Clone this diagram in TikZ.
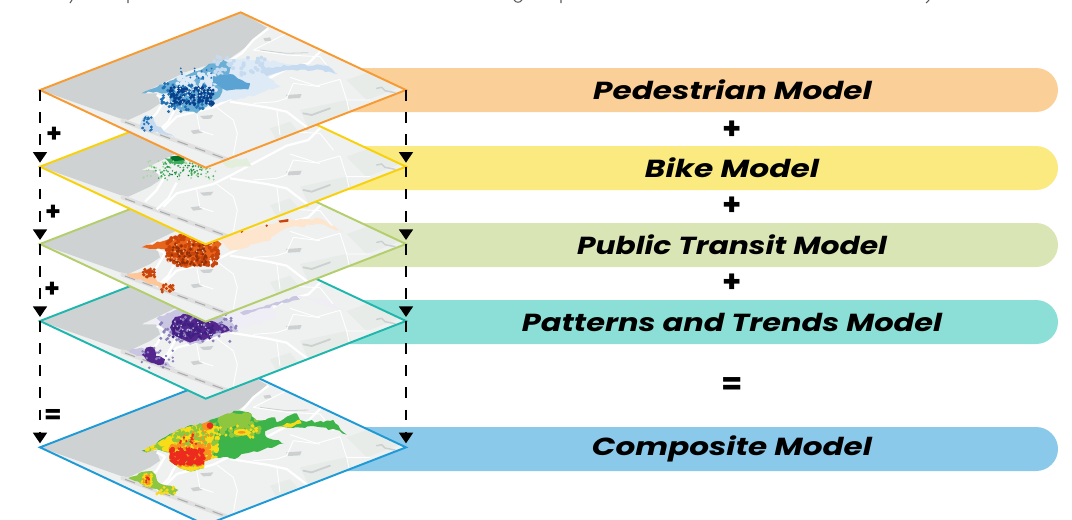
\documentclass[tikz,border=0pt]{standalone}
\usepackage{graphicx}
\usepackage{fontspec}
\setmainfont{Poppins}
\usetikzlibrary{arrows.meta,decorations.pathmorphing}
\definecolor{bara}{HTML}{FBCF98}\definecolor{barb}{HTML}{FAEA80}\definecolor{barc}{HTML}{DAE5B5}\definecolor{bard}{HTML}{8CDFD6}\definecolor{bare}{HTML}{8AC9E9}
\definecolor{edgea}{HTML}{F79A32}\definecolor{edgeb}{HTML}{F8D108}\definecolor{edgec}{HTML}{B3CE6B}\definecolor{edged}{HTML}{1FB7AD}\definecolor{edgee}{HTML}{1E9AD6}
\definecolor{land}{HTML}{EFF0F0}\definecolor{sea}{HTML}{CFD2D3}\definecolor{patch}{HTML}{E8ECE9}\definecolor{blob}{HTML}{CDD0D1}
\definecolor{bla}{HTML}{DEEBF7}\definecolor{blb}{HTML}{C6DBEF}\definecolor{blc}{HTML}{6BAED6}\definecolor{bld}{HTML}{2171B5}\definecolor{ble}{HTML}{08408C}\definecolor{blm}{HTML}{5BA3D3}
\definecolor{gra}{HTML}{A1D99B}\definecolor{grb}{HTML}{41AB5D}\definecolor{grc}{HTML}{00702C}\definecolor{grd}{HTML}{E3EEDD}
\definecolor{ora}{HTML}{FEE6CE}\definecolor{orb}{HTML}{FDC79A}\definecolor{orc}{HTML}{E8641A}\definecolor{ord}{HTML}{C9440A}\definecolor{ore}{HTML}{943008}
\definecolor{pua}{HTML}{EFEDF6}\definecolor{pub}{HTML}{C9C6E2}\definecolor{puc}{HTML}{8A80BC}\definecolor{pud}{HTML}{54278F}\definecolor{pue}{HTML}{3F1F80}
\definecolor{cga}{HTML}{3CB44A}\definecolor{cgb}{HTML}{8DC63F}\definecolor{cgc}{HTML}{F7DC17}\definecolor{cgd}{HTML}{F79420}\definecolor{cge}{HTML}{EC2A1E}
\tikzset{
 bar/.style={rounded corners=16.5pt},
 road/.style={white,line width=1.7pt,line join=round},
 lane/.style={white,line width=.7pt,line join=round},
 dashline/.style={black,line width=1.3pt,dash pattern=on 8pt off 8.6pt,-{Triangle[width=10.5pt,length=8pt]}},
 sign/.style={font=\bfseries\fontsize{23}{23}\selectfont,inner sep=0pt},
 sidesign/.style={font=\bfseries\fontsize{19}{19}\selectfont,inner sep=0pt},
 barlabel/.style={font=\bfseries\itshape\fontsize{18.5}{20}\selectfont,inner sep=0pt},
 layer/.style={x=.25pt,y=-.25pt,shift={(0,-#1*.25pt)}},
 frame/.style={line width=1.45pt,line join=miter},
 rough/.style={decorate,decoration={random steps,segment length=3pt,amplitude=1pt}}
}
\def\dia{(120,270) -- (722,37) -- (1218,270) -- (617,503) -- cycle}
\def\fpmain{(425,280) -- (470,258) -- (540,215) -- (620,195) -- (680,170) -- (720,160) -- (752,168) -- (770,190) -- (825,180) -- (830,195) -- (860,178) -- (890,168) -- (900,188) -- (970,195) -- (1000,188) -- (1040,232) -- (1010,218) -- (950,208) -- (880,212) -- (845,207) -- (795,222) -- (800,240) -- (852,258) -- (815,272) -- (760,282) -- (725,290) -- (705,305) -- (650,300) -- (612,312) -- (612,332) -- (570,342) -- (540,332) -- (508,310) -- (510,285) -- (470,275) -- (440,285) -- cycle}
\newcommand{\speckle}[7]{\foreach \ii in {1,...,#6}{\pgfmathsetmacro\sa{#2+rnd*(#3-#2)}\pgfmathsetmacro\sb{#4+rnd*(#5-#4)}\fill[#1] (\sa,\sb) circle[radius=#7];}}
\newcommand{\basemap}{%
 \fill[land] \dia;
 \fill[patch] (1040,240) -- (1110,215) -- (1200,262) -- (1100,300) -- cycle;
 \fill[patch] (900,330) -- (1040,300) -- (1060,340) -- (930,390) -- cycle;
 \fill[patch] (810,385) -- (870,365) -- (900,400) -- (830,420) -- cycle;
 \fill[sea] (120,270) -- (722,37) -- (805,85) -- (740,140) -- (690,175) -- (560,215) -- (425,280) -- (470,280) -- (480,310) -- (450,330) -- (385,360) -- (360,355) -- cycle;
 \draw[line width=3.2pt,color=black!12,line cap=round] (368,362) -- (680,478);
 \draw[color=black!33,line width=.8pt,dash pattern=on 8pt off 6pt] (375,366) -- (670,474);
 \fill[blob] (790,115) -- (810,112) -- (815,122) -- (795,124) -- cycle;
 \fill[blob] (858,285) -- (905,282) -- (900,294) -- (865,296) -- cycle;
 \fill[blob] (600,348) -- (640,345) -- (632,356) -- (610,357) -- cycle;
 \fill[blob] (572,392) -- (600,388) -- (608,398) -- (580,402) -- cycle;
 \draw[blob,line width=1.4pt,line cap=round] (910,340) -- (935,345) -- (990,325);
 \draw[blob,line width=1.1pt,line cap=round] (1130,265) -- (1145,262) -- (1155,272) -- (1185,278);
 \draw[blob,line width=.6pt] (780,150) -- (860,160) -- (925,158);
 \draw[road] (805,85) -- (760,120) -- (725,160) -- (690,182);
 \draw[road] (470,285) -- (495,298) -- (470,340) -- (435,375);
 \draw[road] (965,150) -- (925,190) -- (860,207) -- (700,292) -- (640,322) -- (530,350) -- (490,390);
 \draw[road] (530,318) -- (505,365) -- (470,398);
 \draw[road] (690,305) -- (800,322) -- (860,335) -- (925,385) -- (960,420);
 \draw[lane] (860,100) -- (800,130) -- (760,150) -- (860,165) -- (960,170) -- (1000,220);
 \draw[lane] (870,232) -- (950,258) -- (1020,238) -- (1040,300) -- (1110,300);
 \draw[lane] (860,295) -- (880,250) -- (960,260);
 \draw[lane] (590,340) -- (600,392) -- (640,405);
 \draw[lane] (650,322) -- (700,360) -- (712,400) -- (700,465);
 \draw[lane] (830,325) -- (840,405);
 \draw[lane] (760,310) -- (830,305) -- (860,295);
 \draw[lane] (960,420) -- (990,380) -- (1060,370);
 \draw[lane] (1040,300) -- (1050,345) -- (1110,380);
}
\begin{document}
\begin{tikzpicture}[x=.75pt,y=-.75pt]
\useasboundingbox (0,0) rectangle (1072,519);
\draw[black!65,line width=.8pt] (72,0) -- (70,3) (128,0) -- (128,3) (514,0) .. controls (516,3) and (520,3) .. (522,0) (561,0) -- (561,3) (929,0) -- (926,3);
\fill[bara,bar] (300,68) -- (1058,68) -- (1058,112) -- (300,112) -- cycle;
\fill[barb,bar] (300,146) -- (1058,146) -- (1058,190) -- (300,190) -- cycle;
\fill[barc,bar] (300,223) -- (1058,223) -- (1058,267) -- (300,267) -- cycle;
\fill[bard,bar] (300,300) -- (1058,300) -- (1058,344) -- (300,344) -- cycle;
\fill[bare,bar] (300,427) -- (1058,427) -- (1058,471) -- (300,471) -- cycle;
\pgfmathsetseed{42}
% composite layer
\begin{scope}[layer=1072]
 \coordinate (Le) at (120,270); \coordinate (Re) at (1218,270);
 \coordinate (Ae) at (120,258); \coordinate (Be) at (1218,258);
 \begin{scope}
  \clip \dia;
  \basemap
  \fill[cga,rough] \fpmain;
  \begin{scope}
   \clip \fpmain;
   \fill[cgb,rough] (425,285) -- (540,210) -- (650,195) -- (640,290) -- (610,345) -- (500,320) -- cycle;
   \fill[cgb,rough] (650,170) -- (760,165) -- (750,200) -- (660,215) -- cycle;
   \speckle{cgb}{660}{780}{165}{235}{50}{8}
   \speckle{cgc}{440}{655}{205}{342}{270}{8}
   \speckle{cgc}{640}{770}{205}{240}{25}{5}
   \speckle{cgb}{510}{650}{210}{262}{40}{6}
   \speckle{cgd}{510}{630}{262}{325}{120}{6}
   \speckle{cge}{512}{612}{272}{320}{110}{6}
   \speckle{cgd}{530}{640}{220}{270}{30}{4}
   \speckle{cge}{535}{600}{225}{265}{12}{4}
   \fill[cgd] (620,205) circle[radius=15];
   \fill[cge] (630,205) circle[radius=10];
   \fill[cgc] (725,225) ellipse[x radius=24,y radius=10];
   \fill[cgd] (725,225) ellipse[x radius=12,y radius=4];
   \fill[cgc,rough] (835,208) -- (900,188) -- (905,198) -- (850,214) -- cycle;
  \end{scope}
  \fill[cgb,rough] (385,362) -- (440,342) -- (460,345) -- (475,375) -- (535,398) -- (520,415) -- (470,395) -- cycle;
  \speckle{cgc}{425}{455}{348}{385}{30}{5}
  \speckle{cgd}{430}{450}{352}{380}{14}{4}
  \speckle{cge}{435}{448}{358}{378}{8}{3.5}
  \speckle{cgc}{470}{525}{385}{410}{14}{5}
 \end{scope}
 \draw[edgee,frame] \dia;
\end{scope}
% patterns layer
\begin{scope}[layer=693]
 \coordinate (Ld) at (120,270); \coordinate (Rd) at (1218,270);
 \coordinate (Ad) at (120,258); \coordinate (Bd) at (1218,258);
 \begin{scope}
  \clip \dia;
  \basemap
  \fill[pua,rough] (650,245) -- (720,230) -- (820,222) -- (825,262) -- (700,300) -- cycle;
  \fill[pua,rough] (430,275) -- (520,245) -- (600,265) -- (510,285) -- cycle;
  \fill[pub,rough] (720,245) -- (800,222) -- (890,195) -- (900,205) -- (790,232) -- (730,252) -- cycle;
  \fill[pua,rough] (890,195) -- (970,205) -- (1035,240) -- (960,215) -- cycle;
  \fill[pub,rough] (385,360) -- (425,350) -- (470,375) -- (525,410) -- (480,400) -- cycle;
  \fill[pub,rough] (470,262) -- (530,235) -- (620,250) -- (680,262) -- (715,300) -- (650,315) -- (610,335) -- (570,342) -- (510,312) -- cycle;
  \fill[pud,rough] (510,290) -- (525,258) -- (560,250) -- (620,268) -- (670,280) -- (690,298) -- (640,310) -- (610,328) -- (570,335) -- (540,322) -- (515,310) -- cycle;
  \speckle{puc}{480}{710}{250}{335}{70}{5}
  \speckle{pue}{515}{640}{270}{322}{90}{5}
  \speckle{pub}{520}{640}{260}{320}{25}{2.5}
  \fill[pud,rough] (425,372) -- (438,350) -- (462,350) -- (468,375) -- (495,385) -- (490,400) -- (465,398) -- (440,388) -- cycle;
  \speckle{puc}{420}{520}{350}{412}{20}{4}
 \end{scope}
 \draw[edged,frame] \dia;
\end{scope}
% transit layer
\begin{scope}[layer=462]
 \coordinate (Lc) at (120,270); \coordinate (Rc) at (1218,270);
 \coordinate (Ac) at (120,258); \coordinate (Bc) at (1218,258);
 \begin{scope}
  \clip \dia;
  \basemap
  \fill[ora,rough] (650,245) -- (760,225) -- (850,200) -- (960,193) -- (1030,235) -- (960,210) -- (860,222) -- (800,262) -- (690,290) -- cycle;
  \fill[orb,rough] (380,362) -- (440,345) -- (480,385) -- (525,400) -- (510,418) -- (470,395) -- cycle;
  \fill[orc,rough] (425,280) -- (500,258) -- (540,240) -- (620,245) -- (665,270) -- (640,310) -- (612,332) -- (560,342) -- (510,310) -- (510,285) -- cycle;
  \speckle{ord}{500}{655}{245}{335}{130}{6}
  \speckle{ore}{510}{620}{270}{335}{70}{4.5}
  \speckle{orb}{500}{655}{245}{330}{45}{2.5}
  \fill[ord] (835,200) -- (865,195) -- (865,203) -- (840,206) -- cycle;
  \fill[ord] (725,232) circle[radius=5] (800,215) circle[radius=4];
  \speckle{ord}{430}{465}{345}{370}{26}{5}
  \speckle{ord}{485}{520}{390}{415}{16}{5}
 \end{scope}
 \draw[edgec,frame] \dia;
\end{scope}
% bike layer
\begin{scope}[layer=230]
 \coordinate (Lb) at (120,270); \coordinate (Rb) at (1218,270);
 \coordinate (Ab) at (120,258); \coordinate (Bb) at (1218,258);
 \begin{scope}
  \clip \dia;
  \basemap
  \fill[grd,rough] (660,250) -- (740,245) -- (755,268) -- (680,272) -- cycle;
  \fill[grb,rough] (495,245) -- (550,235) -- (555,258) -- (510,262) -- cycle;
  \fill[grc] (510,240) -- (550,235) -- (552,250) -- (520,254) -- cycle;
  \speckle{gra}{430}{650}{250}{310}{50}{3}
  \speckle{grb}{460}{640}{255}{305}{70}{3}
  \speckle{grc}{500}{600}{265}{300}{18}{2.2}
 \end{scope}
 \draw[edgeb,frame] \dia;
\end{scope}
% pedestrian layer
\begin{scope}[layer=0]
 \coordinate (La) at (120,270); \coordinate (Ra) at (1218,270);
 \coordinate (Aa) at (120,258); \coordinate (Ba) at (1218,258);
 \begin{scope}
  \clip \dia;
  \basemap
  \fill[bla,rough] (620,205) -- (680,175) -- (800,180) -- (880,195) -- (980,195) -- (1012,222) -- (950,207) -- (860,207) -- (800,225) -- (842,260) -- (780,280) -- (720,295) -- (640,310) -- cycle;
  \fill[blb,rough] (780,205) -- (880,195) -- (975,197) -- (1012,222) -- (950,208) -- (860,210) -- (800,228) -- cycle;
  \fill[blb,rough] (425,360) -- (440,345) -- (460,350) -- (470,378) -- (525,412) -- (480,400) -- (420,388) -- cycle;
  \fill[blc,rough] (425,280) -- (520,240) -- (640,190) -- (670,180) -- (695,195) -- (660,290) -- (620,320) -- (590,340) -- (540,330) -- (510,310) -- (510,285) -- (470,275) -- cycle;
  \speckle{bla}{530}{650}{220}{270}{85}{6}
  \speckle{blb}{640}{800}{170}{225}{45}{6}
  \speckle{bld}{480}{640}{250}{335}{90}{5}
  \speckle{ble}{510}{640}{262}{315}{120}{5}
  \speckle{bla}{510}{640}{250}{320}{30}{2.5}
  \speckle{bld}{540}{640}{205}{240}{18}{3}
  \fill[blm,rough] (640,228) -- (690,222) -- (725,240) -- (750,250) -- (745,268) -- (680,272) -- (640,250) -- cycle;
  \speckle{bld}{425}{455}{352}{392}{18}{4}
 \end{scope}
 \draw[edgea,frame] \dia;
\end{scope}
% arrows
\draw[dashline] (La) -- (Ab);
\draw[dashline] (Ra) -- (Bb);
\draw[dashline] (Lb) -- (Ac);
\draw[dashline] (Rb) -- (Bc);
\draw[dashline] (Lc) -- (Ad);
\draw[dashline] (Rc) -- (Bd);
\draw[dashline] (Ld) -- (Ae);
\draw[dashline] (Rd) -- (Be);
% side signs
\node[sidesign] (sa) at (54,135) {+};
\node[sidesign] (sb) at (53,213) {+};
\node[sidesign] (sc) at (52,290) {+};
\node[sidesign] (sd) at (53,416) {=};
% bar labels
\node[barlabel] (ta) at (732.5,90) {\resizebox{209pt}{\height}{Pedestrian Model}};
\node[barlabel] (tb) at (732,168) {\resizebox{130.5pt}{\height}{Bike Model}};
\node[barlabel] (tc) at (732,245) {\resizebox{232.5pt}{\height}{Public Transit Model}};
\node[barlabel] (td) at (732,322) {\resizebox{315pt}{\height}{Patterns and Trends Model}};
\node[barlabel] (te) at (732,449) {\resizebox{210pt}{\height}{Composite Model}};
\node[sign] (pa) at (732,130) {+};
\node[sign] (pb) at (732,206) {+};
\node[sign] (pc) at (732,283) {+};
\node[sign] (pd) at (732,386) {=};
\end{tikzpicture}
\end{document}
